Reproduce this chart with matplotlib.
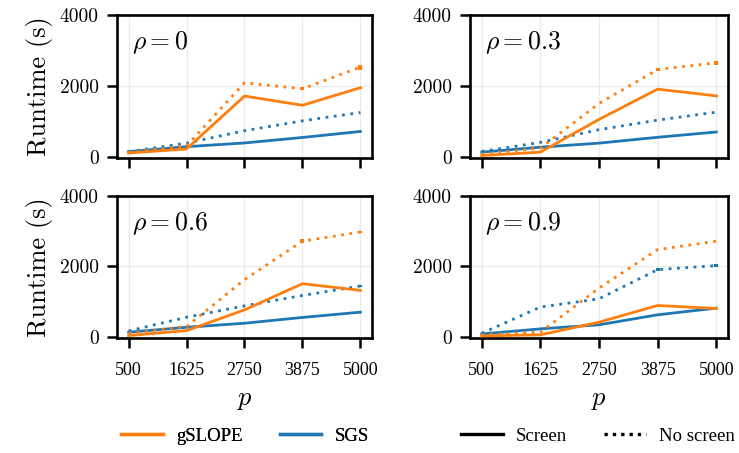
import matplotlib
matplotlib.use("Agg")
import matplotlib.pyplot as plt
from matplotlib.lines import Line2D

plt.rcParams['mathtext.fontset'] = 'cm'
plt.rcParams['font.family'] = ['DejaVu Serif']

p_values = [500, 1625, 2750, 3875, 5000]
rho_labels = ["0", "0.3", "0.6", "0.9"]

# runtimes (s): [rho=0, rho=0.3, rho=0.6, rho=0.9]
gslope_screen = [
    [100, 215, 1710, 1450, 1945],
    [30, 125, 1050, 1905, 1715],
    [30, 170, 760, 1505, 1315],
    [20, 50, 410, 885, 800],
]
gslope_noscreen = [
    [120, 300, 2085, 1915, 2530],
    [65, 240, 1500, 2460, 2650],
    [95, 285, 1620, 2715, 2975],
    [50, 125, 1380, 2475, 2715],
]
sgs_screen = [
    [140, 280, 385, 540, 710],
    [125, 265, 380, 545, 695],
    [125, 265, 380, 545, 695],
    [75, 220, 335, 620, 810],
]
sgs_noscreen = [
    [140, 380, 730, 1010, 1245],
    [145, 400, 760, 1030, 1255],
    [160, 550, 875, 1170, 1440],
    [95, 840, 1075, 1905, 2020],
]
gslope_screen_err = [
    [0, 0, 0, 0, 30],
    [0, 0, 0, 0, 30],
    [0, 0, 0, 0, 0],
    [0, 0, 0, 0, 0],
]
gslope_noscreen_err = [
    [0, 0, 0, 40, 70],
    [0, 0, 0, 50, 60],
    [0, 0, 0, 50, 40],
    [0, 0, 0, 0, 0],
]
sgs_noscreen_err = [
    [0, 0, 0, 0, 0],
    [0, 0, 0, 0, 0],
    [0, 0, 0, 0, 30],
    [0, 0, 0, 40, 40],
]

ORANGE = "#ff7f0e"
BLUE = "#1f77b4"

fig = plt.figure(figsize=(7.39, 4.53), dpi=100)
W, H = 739, 453
boxes = [
    (117, 15, 372, 158),
    (470, 15, 728, 158),
    (117, 196, 372, 338),
    (470, 196, 728, 338),
]
axes = []
for (x0, y0, x1, y1) in boxes:
    ax = fig.add_axes([x0 / W, 1 - y1 / H, (x1 - x0) / W, (y1 - y0) / H])
    axes.append(ax)

lw = 2.0
dot = (0, (1, 2))
for i, ax in enumerate(axes):
    ax.grid(True, color="#ebebeb", lw=1.0, zorder=0)
    ax.plot(p_values, sgs_screen[i], color=BLUE, lw=lw, ls='-', zorder=3)
    ax.errorbar(p_values, sgs_noscreen[i], yerr=sgs_noscreen_err[i], color=BLUE,
                lw=lw, ls=dot, elinewidth=lw + 1, capsize=0, zorder=3)
    ax.errorbar(p_values, gslope_screen[i], yerr=gslope_screen_err[i], color=ORANGE,
                lw=lw, ls='-', elinewidth=lw + 1, capsize=0, zorder=4)
    ax.errorbar(p_values, gslope_noscreen[i], yerr=gslope_noscreen_err[i], color=ORANGE,
                lw=lw, ls=dot, elinewidth=lw + 1, capsize=0, zorder=4)
    ax.set_ylim(-40, 4000)
    ax.set_xlim(500 - 225, 5000 + 225)
    ax.set_xticks(p_values)
    ax.set_yticks([0, 2000, 4000])
    ax.set_yticklabels(["0", "2000", "4000"], family='cmr10', fontsize=14)
    ax.tick_params(axis='both', direction='out', length=7, width=1.8, color='black')
    ax.tick_params(axis='y', pad=6)
    ax.tick_params(axis='x', pad=10)
    for s in ax.spines.values():
        s.set_linewidth(1.9)
        s.set_color('black')
    ax.text(0.06, 0.9, r"$\rho = %s$" % rho_labels[i], transform=ax.transAxes,
            fontsize=18.5, va='top', ha='left')
    if i < 2:
        ax.set_xticklabels([])
    else:
        ax.set_xticklabels([str(v) for v in p_values], family='Liberation Serif', fontsize=13)
        ax.set_xlabel(r"$p$", fontsize=19, labelpad=6)
    if i % 2 == 0:
        ax.set_ylabel("Runtime (s)", family='cmr10', fontsize=19, labelpad=5)

leg_font = {'family': 'Liberation Serif', 'size': 13.5}
h1 = [Line2D([], [], color=ORANGE, lw=2.4), Line2D([], [], color=BLUE, lw=2.4)]
leg1 = fig.legend(h1, ["gSLOPE", "SGS"], loc='center', bbox_to_anchor=(245 / W, 1 - 436 / H),
                  ncol=2, frameon=False, prop=leg_font, handlelength=2.2,
                  handletextpad=0.7, columnspacing=2.0)
h2 = [Line2D([], [], color='black', lw=2.4, ls='-'),
      Line2D([], [], color='black', lw=2.4, ls=(0, (1, 1.5)))]
leg2 = fig.legend(h2, ["Screen", "No screen"], loc='center', bbox_to_anchor=(598 / W, 1 - 436 / H),
                  ncol=2, frameon=False, prop=leg_font, handlelength=2.2,
                  handletextpad=0.7, columnspacing=2.0)
fig.add_artist(leg1)

fig.savefig("out.png", dpi=100)
